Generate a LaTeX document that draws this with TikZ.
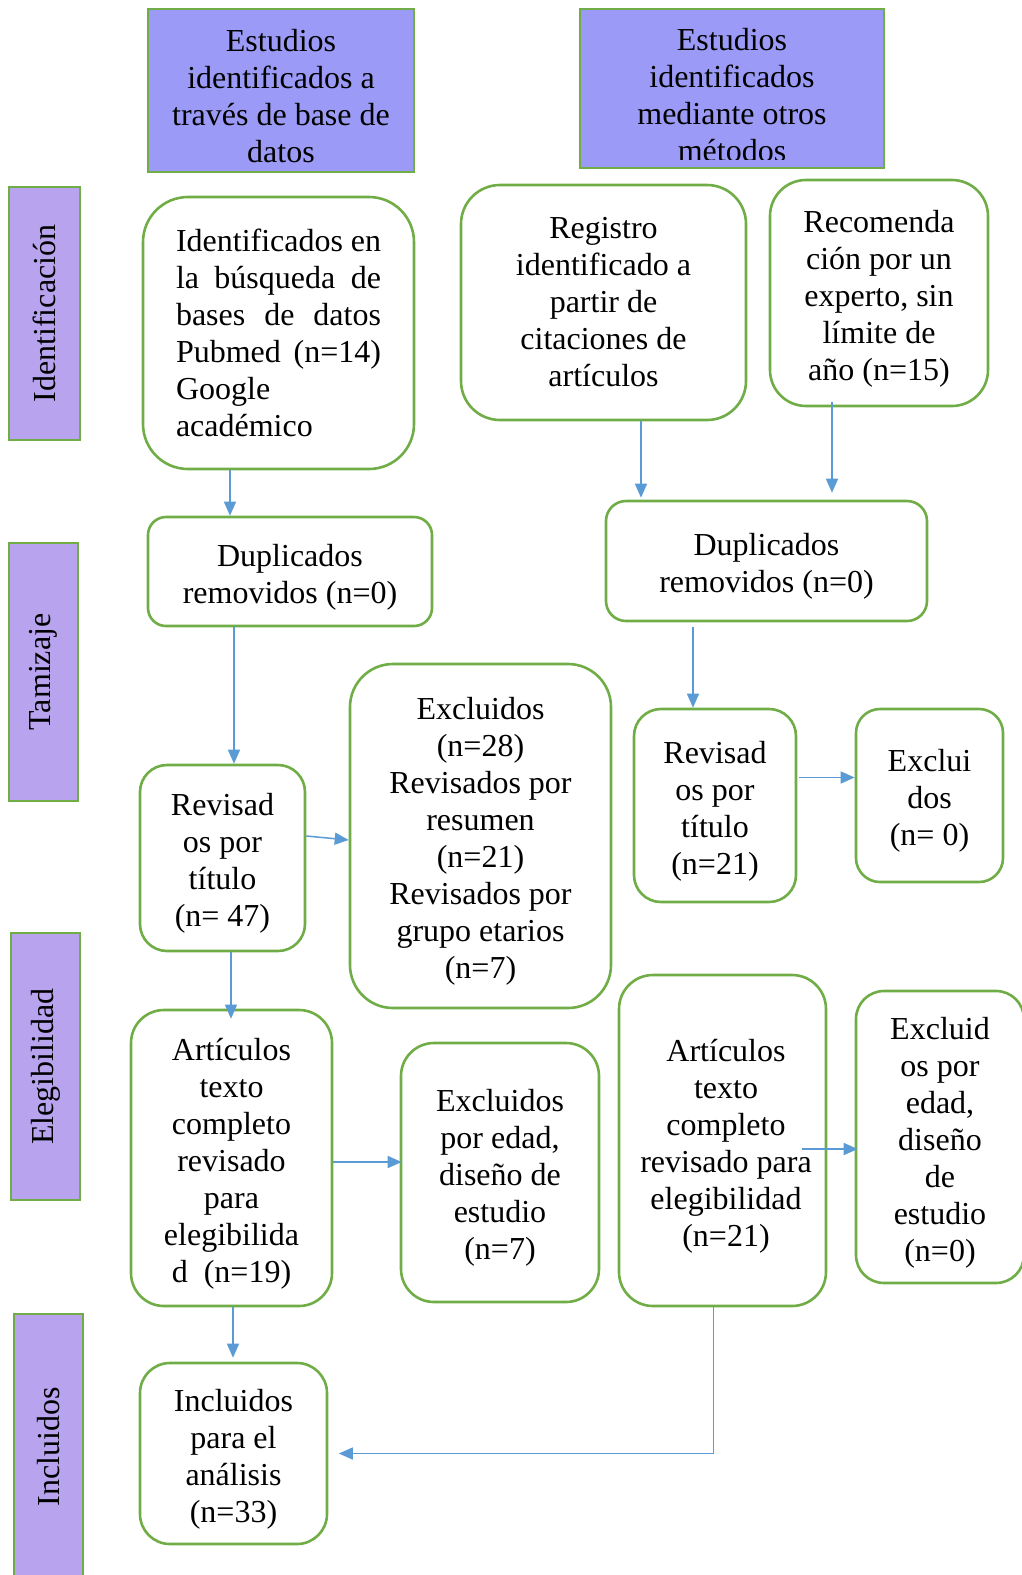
\documentclass[tikz,border=0pt]{standalone}
\usepackage{fontspec}
\setmainfont{Liberation Serif}
\usetikzlibrary{arrows.meta,calc}
\definecolor{grn}{RGB}{112,173,71}
\definecolor{blu}{RGB}{91,155,213}
\definecolor{hdrfill}{RGB}{155,155,247}
\definecolor{sidefill}{RGB}{183,163,238}
\newcommand\tstrut{\rule{0pt}{33pt}}
\begin{document}
\begin{tikzpicture}[x=1pt,y=-1pt,
 every node/.style={font=\fontsize{32}{37}\selectfont, inner sep=0pt, align=center},
 rbox/.style={draw=grn, line width=2.6pt, fill=white, rounded corners=#1},
 hdr/.style={draw=grn, line width=2.6pt, fill=hdrfill},
 side/.style={draw=grn, line width=2.6pt, fill=sidefill, rotate=90},
 arr/.style={draw=blu, line width=1.5pt, -{Triangle[length=14pt,width=12pt]}}
]
\useasboundingbox (0,0) rectangle (1022,1575);
\clip (0,0) rectangle (1022,1575);

% headers
\node[hdr, minimum width=266pt, minimum height=163pt] (h1) at (281,90.5)
  {\tstrut Estudios\\identificados a\\través de base de\\datos};
\node[hdr, minimum width=304pt, minimum height=159pt] (h2) at (732,88.5) {};
\begin{scope}
\clip (581.5,10.5) rectangle (882.5,159);
\node (h2t) at (732,95) {Estudios\\identificados\\mediante otros\\métodos};
\end{scope}

% side labels
\node[side, minimum width=253pt, minimum height=71pt] (s1) at (44.5,313.5) {Identificación};
\node[side, minimum width=258pt, minimum height=69pt] (s2) at (43.5,672) {Tamizaje};
\node[side, minimum width=267pt, minimum height=69pt] (s3) at (45.5,1066.5) {Elegibilidad};
\node[side, minimum width=266pt, minimum height=69pt] (s4) at (48.5,1447) {Incluidos};

% boxes
\node[rbox=45pt, minimum width=271pt, minimum height=272pt, align=left] (A) at (278.5,333)
  {\makebox[205pt][s]{Identificados en}\\\makebox[205pt][s]{la búsqueda de}\\\makebox[205pt][s]{bases de datos}\\\makebox[205pt][s]{Pubmed (n=14)}\\Google\\académico};
\node[rbox=39pt, minimum width=285pt, minimum height=235pt] (B) at (603.5,302.5)
  {Registro\\identificado a\\partir de\\citaciones de\\artículos};
\node[rbox=36pt, minimum width=218pt, minimum height=226pt] (C) at (879,293)
  {\tstrut Recomenda\\ción por un\\experto, sin\\límite de\\año (n=15)};
\node[rbox=18pt, minimum width=284pt, minimum height=109pt] (D) at (290,571.5)
  {\tstrut Duplicados\\removidos (n=0)};
\node[rbox=20pt, minimum width=321pt, minimum height=120pt] (E) at (766.5,561)
  {\tstrut Duplicados\\removidos (n=0)};
\node[rbox=27pt, minimum width=165pt, minimum height=186pt] (F) at (222.5,858)
  {\tstrut Revisad\\os por\\título\\(n= 47)};
\node[rbox=43pt, minimum width=261pt, minimum height=344pt] (G) at (480.5,836)
  {\tstrut Excluidos\\(n=28)\\Revisados por\\resumen\\(n=21)\\Revisados por\\grupo etarios\\(n=7)};
\node[rbox=27pt, minimum width=162pt, minimum height=193pt] (H) at (715,805.5)
  {\tstrut Revisad\\os por\\título\\(n=21)};
\node[rbox=24pt, minimum width=147pt, minimum height=173pt] (I) at (929.5,795.5)
  {\tstrut Exclui\\dos\\(n= 0)};
\node[rbox=33pt, minimum width=201pt, minimum height=296pt] (J) at (231.5,1158)
  {\tstrut Artículos\\texto\\completo\\revisado\\para\\elegibilida\\d\ \ (n=19)};
\node[rbox=33pt, minimum width=198pt, minimum height=259pt] (K) at (500,1172.5)
  {\tstrut Excluidos\\por edad,\\diseño de\\estudio\\(n=7)};
\node[rbox=34pt, minimum width=207pt, minimum height=331pt] (L) at (722.5,1140.5)
  {\tstrut\hspace*{7pt}Artículos\\\hspace*{7pt}texto\\\hspace*{7pt}completo\\\hspace*{7pt}revisado para\\\hspace*{7pt}elegibilidad\\\hspace*{7pt}(n=21)};
\node[rbox=28pt, minimum width=168pt, minimum height=292pt] (M) at (940,1137)
  {\tstrut Excluid\\os por\\edad,\\diseño\\de\\estudio\\(n=0)};
\node[rbox=30pt, minimum width=187pt, minimum height=181pt] (N) at (233.5,1453.5)
  {\tstrut Incluidos\\para el\\análisis\\(n=33)};

% arrows
\draw[arr] ([xshift=-48.5pt]A.south) -- ([xshift=-60pt]D.north);
\draw[arr] ([xshift=37.5pt]B.south) -- ([xshift=-125.5pt,yshift=2pt]E.north);
\draw[arr] ([xshift=-47pt,yshift=5pt]C.south) -- ([xshift=65.5pt,yshift=7pt]E.north);
\draw[arr] ([xshift=-56pt]D.south) -- ([xshift=11.5pt]F.north);
\draw[arr] ([xshift=-73.5pt,yshift=-5pt]E.south) -- ([xshift=-22pt]H.north);
\draw[arr] ([yshift=22pt]F.east) -- ([yshift=-4pt]G.west);
\draw[arr] ([xshift=2pt,yshift=28pt]H.east) -- ([yshift=18pt]I.west);
\draw[arr] ([xshift=8.5pt]F.south) -- ([xshift=-0.5pt,yshift=-10pt]J.north);
\draw[arr] ([yshift=-4pt]J.east) -- ([xshift=2pt,yshift=10.5pt]K.west);
\draw[arr] ([xshift=-25pt,yshift=-8.5pt]L.east) -- ([xshift=3pt,yshift=-12pt]M.west);
\draw[arr] ([xshift=1.5pt]J.south) -- ([xshift=-0.5pt,yshift=4pt]N.north);
\draw[arr] ([xshift=-9pt]L.south) |- ([xshift=10.5pt]N.east);
\end{tikzpicture}
\end{document}
